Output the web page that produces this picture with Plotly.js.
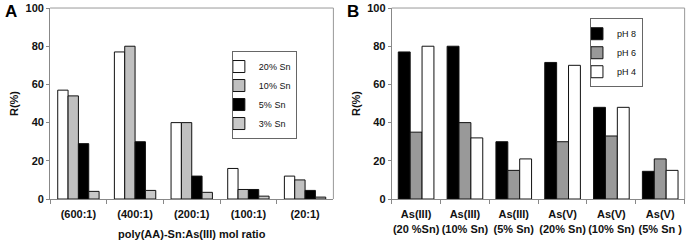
<!DOCTYPE html>
<html><head><meta charset="utf-8">
<script src="https://cdn.plot.ly/plotly-3.0.1.min.js"></script>
<style>body{margin:0;padding:0;background:#fff}#c{width:686px;height:243px}</style>
</head><body><div id="c"></div>
<script>
var catsA = ['(600:1)','(400:1)','(200:1)','(100:1)','(20:1)'];
var sn20 = [57, 77, 40, 16, 12];
var sn10 = [54, 80, 40, 5, 10];
var sn5  = [29, 30, 12, 5, 4.5];
var sn3  = [4, 4.5, 3.5, 1.5, 1];
var catsB = ['As(III)<br>(20 %Sn)','As(III)<br>(10% Sn)','As(III)<br>(5% Sn)','As(V)<br>(20% Sn)','As(V)<br>(10% Sn)','As(V)<br>(5% Sn )'];
var ph8 = [77, 80, 30, 71.5, 48, 14.5];
var ph6 = [35, 40, 15, 30, 33, 21];
var ph4 = [80, 32, 21, 70, 48, 15];
var yTicks = [0,20,40,60,80,100];

var ln = {color:'#111', width:1};
function bar(x,y,name,color,xa,ya,lg){return {type:'bar',x:x,y:y,name:name,xaxis:xa,yaxis:ya,legend:lg,marker:{color:color,line:ln}};}
var data = [
 bar(catsA,sn20,'20% Sn','#ffffff','x','y','legend'),
 bar(catsA,sn10,'10% Sn','#c0c0c0','x','y','legend'),
 bar(catsA,sn5,'5% Sn','#000000','x','y','legend'),
 bar(catsA,sn3,'3% Sn','#c8c8c8','x','y','legend'),
 bar(catsB,ph8,'pH 8','#000000','x2','y2','legend2'),
 bar(catsB,ph6,'pH 6','#999999','x2','y2','legend2'),
 bar(catsB,ph4,'pH 4','#ffffff','x2','y2','legend2')
];
var tf = {family:'Liberation Sans, Arial', size:11, color:'#111', weight:'bold'};
var yax = function(anchor){return {domain:[0.181,0.967], anchor:anchor, range:[0,100], tickvals:yTicks, showgrid:false, zeroline:false,
  showline:true, linecolor:'#888', linewidth:1, ticks:'outside', ticklen:3, tickcolor:'#888', tickfont:tf,
  title:{text:'R(%)', font:tf, standoff:4}};};
var xax = function(dom, anchor){return {domain:dom, anchor:anchor, showline:true, linecolor:'#888', linewidth:1, ticks:'outside', tickson:'boundaries',
  ticklen:4, tickcolor:'#888', tickfont:tf, showgrid:false, tickangle:0, ticklabelstandoff:5};};
var lf = {family:'Liberation Sans, Arial', size:9, color:'#111'};
var layout = {
 width:686, height:243, margin:{l:0,r:0,t:0,b:0}, paper_bgcolor:'#fff', plot_bgcolor:'#fff',
 barmode:'group', showlegend:true, font:{family:'Liberation Sans, Arial'},
 xaxis: Object.assign(xax([0.073,0.486],'y'), {title:{text:'poly(AA)-Sn:As(III) mol ratio', font:tf, standoff:11}}),
 yaxis: yax('x'),
 xaxis2: xax([0.571,0.998],'y2'),
 yaxis2: yax('x2'),
 bargap:0.27, bargroupgap:0,
 legend:{x:0.338, y:0.79, xanchor:'left', yanchor:'top', bgcolor:'#fff', bordercolor:'#666', borderwidth:1,
   font:lf, tracegroupgap:0, itemwidth:30, indentation:-14},
 legend2:{x:0.86, y:0.925, xanchor:'left', yanchor:'top', bgcolor:'#fff', bordercolor:'#666', borderwidth:1,
   font:lf, tracegroupgap:0, itemwidth:30, indentation:-14},
 shapes:[
  {type:'line', xref:'paper', yref:'paper', x0:0.073, x1:0.486, y0:0.967, y1:0.967, line:{color:'#999',width:1}},
  {type:'line', xref:'paper', yref:'paper', x0:0.486, x1:0.486, y0:0.181, y1:0.967, line:{color:'#999',width:1}},
  {type:'line', xref:'paper', yref:'paper', x0:0.571, x1:0.998, y0:0.967, y1:0.967, line:{color:'#999',width:1}},
  {type:'line', xref:'paper', yref:'paper', x0:0.998, x1:0.998, y0:0.181, y1:0.967, line:{color:'#999',width:1}}
 ],
 annotations:[
  {text:'A', xref:'paper', yref:'paper', x:0.004, y:1.0, xanchor:'left', yanchor:'top', showarrow:false, font:{family:'Liberation Sans, Arial', size:17, weight:'bold', color:'#000'}},
  {text:'B', xref:'paper', yref:'paper', x:0.503, y:1.0, xanchor:'left', yanchor:'top', showarrow:false, font:{family:'Liberation Sans, Arial', size:17, weight:'bold', color:'#000'}}
 ]
};
Plotly.newPlot('c', data, layout, {staticPlot:true});
</script></body></html>
